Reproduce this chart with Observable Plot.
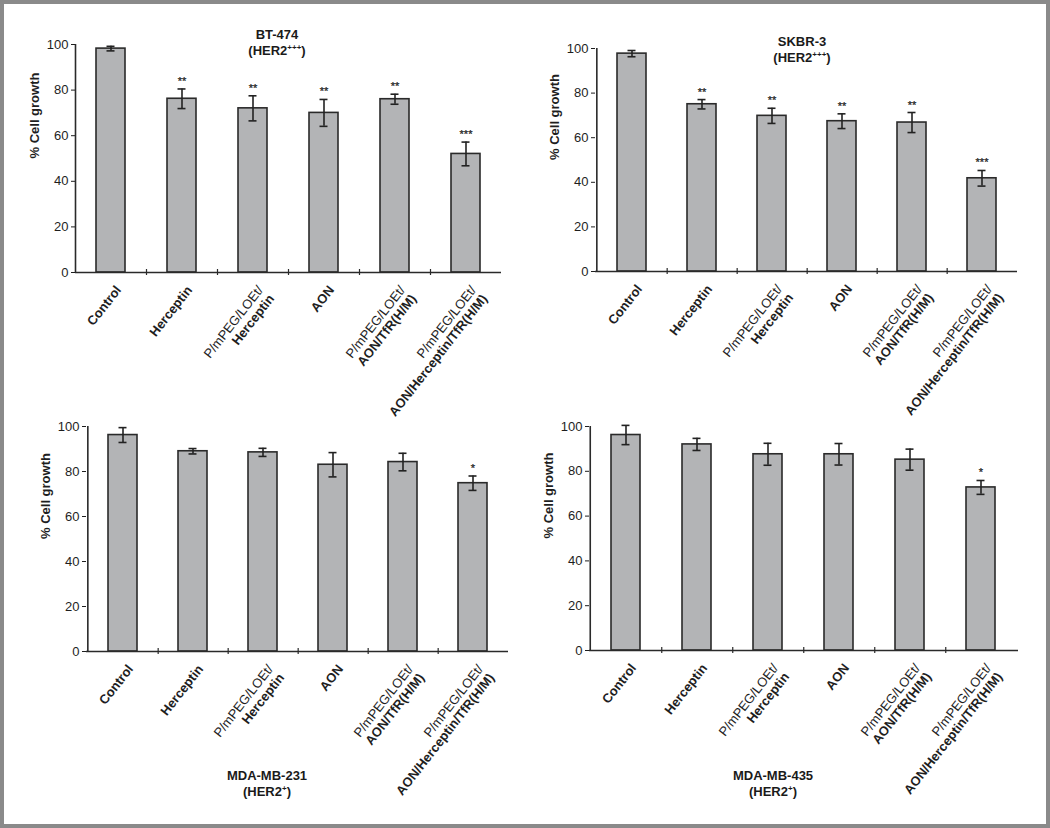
<!DOCTYPE html>
<html><head><meta charset="utf-8">
<script src="https://cdn.jsdelivr.net/npm/d3@7"></script>
<script src="https://cdn.jsdelivr.net/npm/@observablehq/plot@0.6"></script>
<style>
html,body{margin:0;padding:0;background:#fff;}
#page{position:relative;width:1050px;height:828px;overflow:hidden;font-family:"Liberation Sans",Arial,sans-serif;color:#1a1a1a;background:#fff;}
#frame{position:absolute;left:0;top:0;width:1050px;height:828px;box-sizing:border-box;border:4px solid #8a8a8a;pointer-events:none;z-index:10;}
.panel{position:absolute;}
.title{position:absolute;transform:translateX(-50%);text-align:center;font-weight:bold;font-size:13px;line-height:16px;white-space:nowrap;z-index:5;}
.title sup{font-size:8px;line-height:0;vertical-align:5px;}
</style></head>
<body><div id="page"><div id="frame"></div></div>
<script>
// ---- data ----
const treatments = ["Control", "Herceptin", "P/mPEG/LOEt/Herceptin", "AON", "P/mPEG/LOEt/AON/TfR(H/M)", "P/mPEG/LOEt/AON/Herceptin/TfR(H/M)"];
const labelTop  = ["", "", "P/mPEG/LOEt/", "", "P/mPEG/LOEt/", "P/mPEG/LOEt/"];
const labelMain = ["Control", "Herceptin", "Herceptin", "AON", "AON/TfR(H/M)", "AON/Herceptin/TfR(H/M)"];
const yTicks = [0, 20, 40, 60, 80, 100];
const yLabel = ["% Cell growth"];

const cellLines = ["BT-474", "SKBR-3", "MDA-MB-231", "MDA-MB-435"];
const her2Status = ["+++", "+++", "+", "+"];

const bt474Mean = [98.2, 76.2, 72.0, 70.0, 76.0, 52.0];
const bt474Err  = [1.0, 4.3, 5.5, 5.9, 2.2, 5.2];
const bt474Sig  = ["", "**", "**", "**", "**", "***"];

const skbr3Mean = [97.7, 75.0, 69.8, 67.4, 66.8, 41.8];
const skbr3Err  = [1.4, 2.1, 3.4, 3.3, 4.5, 3.5];
const skbr3Sig  = ["", "**", "**", "**", "**", "***"];

const mda231Mean = [96.2, 89.0, 88.5, 83.0, 84.2, 74.8];
const mda231Err  = [3.3, 1.2, 1.8, 5.4, 3.9, 3.2];
const mda231Sig  = ["", "", "", "", "", "*"];

const mda435Mean = [96.2, 92.0, 87.6, 87.6, 85.2, 72.8];
const mda435Err  = [4.3, 2.7, 4.9, 4.8, 4.7, 3.1];
const mda435Sig  = ["", "", "", "", "", "*"];

// ---- drawing ----
const FONT = '"Liberation Sans", Arial, sans-serif';
const INK = "#1e1e1e";
const page = document.getElementById("page");

function panel(cfg) {
  const rows = treatments.map((t, i) => ({
    t, top: labelTop[i], main: labelMain[i],
    v: cfg.mean[i], e: cfg.err[i], s: cfg.sig[i], two: labelTop[i] !== ""
  }));
  const step = (cfg.width - cfg.ml - cfg.mr) / treatments.length;
  const ang = 52 * Math.PI / 180;
  const lh = 14;
  const ldx = 3.5, ldy = 12;
  const ldx2 = ldx + lh * Math.sin(ang), ldy2 = ldy + lh * Math.cos(ang);
  const chart = Plot.plot({
    width: cfg.width, height: cfg.height,
    marginLeft: cfg.ml, marginRight: cfg.mr, marginTop: cfg.mt, marginBottom: cfg.mb,
    style: {background: "transparent", overflow: "visible", fontFamily: FONT, fontSize: "13px", color: INK},
    x: {type: "band", domain: treatments, paddingInner: 0.59, paddingOuter: 0.295, axis: null},
    y: {domain: [0, 100], ticks: yTicks, tickSize: 4, tickPadding: 3, label: null},
    marks: [
      Plot.barY(rows, {x: "t", y: "v", fill: "#b3b4b6", stroke: "#2a2a2a", strokeWidth: 1.6}),
      Plot.ruleX(rows, {x: "t", y1: d => d.v - d.e, y2: d => d.v + d.e, stroke: "#222", strokeWidth: 1.6}),
      Plot.tickY(rows, {x: "t", y: d => d.v + d.e, stroke: "#222", strokeWidth: 1.6, insetLeft: 10.5, insetRight: 10.5}),
      Plot.tickY(rows, {x: "t", y: d => d.v - d.e, stroke: "#222", strokeWidth: 1.6, insetLeft: 10.5, insetRight: 10.5}),
      Plot.ruleY([0], {stroke: "#2a2a2a", strokeWidth: 1.6}),
      Plot.ruleX([treatments[0]], {dx: -step / 2, y1: () => 0, y2: () => 100, stroke: "#2a2a2a", strokeWidth: 1.6}),
      Plot.ruleX(treatments.slice(0, -1), {dx: step / 2, y1: () => 0, y2: () => 0, insetTop: -3, insetBottom: -3, stroke: "#2a2a2a", strokeWidth: 1.2}),
      Plot.text(rows, {x: "t", y: d => d.v + d.e, text: "s", lineAnchor: "bottom", dy: -4, fontSize: 11, fill: INK, stroke: INK, strokeWidth: 0.25}),
      Plot.text(rows.filter(d => d.two), {x: "t", text: "top", frameAnchor: "bottom", rotate: -52, textAnchor: "end", lineAnchor: "top", dx: ldx, dy: ldy, fontSize: 13, fill: INK}),
      Plot.text(rows.filter(d => !d.two), {x: "t", text: "main", frameAnchor: "bottom", rotate: -52, textAnchor: "end", lineAnchor: "top", dx: ldx, dy: ldy, fontSize: 13, fontWeight: "bold", fill: INK}),
      Plot.text(rows.filter(d => d.two), {x: "t", text: "main", frameAnchor: "bottom", rotate: -52, textAnchor: "end", lineAnchor: "top", dx: ldx2, dy: ldy2, fontSize: 13, fontWeight: "bold", fill: INK}),
      Plot.text(yLabel, {text: d => d, frameAnchor: "left", rotate: -90, dx: -41, fontSize: 13, fontWeight: "bold", fill: INK})
    ]
  });
  chart.classList.add("panel");
  chart.style.left = cfg.left + "px";
  chart.style.top = cfg.top + "px";
  chart.style.position = "absolute";
  page.appendChild(chart);

  const title = document.createElement("div");
  title.className = "title";
  title.style.left = cfg.tx + "px";
  title.style.top = cfg.ty + "px";
  const l1 = document.createElement("div");
  l1.textContent = cfg.name;
  const l2 = document.createElement("div");
  l2.append("(HER2");
  const sup = document.createElement("sup");
  sup.textContent = cfg.status;
  l2.append(sup, ")");
  title.append(l1, l2);
  page.appendChild(title);
}

panel({mean: bt474Mean, err: bt474Err, sig: bt474Sig, name: cellLines[0], status: her2Status[0],
  left: 0, top: 0, width: 525, height: 414, ml: 75, mr: 24, mt: 44, mb: 142, tx: 277, ty: 27});
panel({mean: skbr3Mean, err: skbr3Err, sig: skbr3Sig, name: cellLines[1], status: her2Status[1],
  left: 525, top: 0, width: 525, height: 414, ml: 70, mr: 33, mt: 48, mb: 143, tx: 802, ty: 34});
panel({mean: mda231Mean, err: mda231Err, sig: mda231Sig, name: cellLines[2], status: her2Status[2],
  left: 0, top: 414, width: 525, height: 414, ml: 86, mr: 17, mt: 12, mb: 177, tx: 267, ty: 768});
panel({mean: mda435Mean, err: mda435Err, sig: mda435Sig, name: cellLines[3], status: her2Status[3],
  left: 525, top: 414, width: 525, height: 414, ml: 64, mr: 32, mt: 12, mb: 178, tx: 773, ty: 768});
</script>
</body></html>
